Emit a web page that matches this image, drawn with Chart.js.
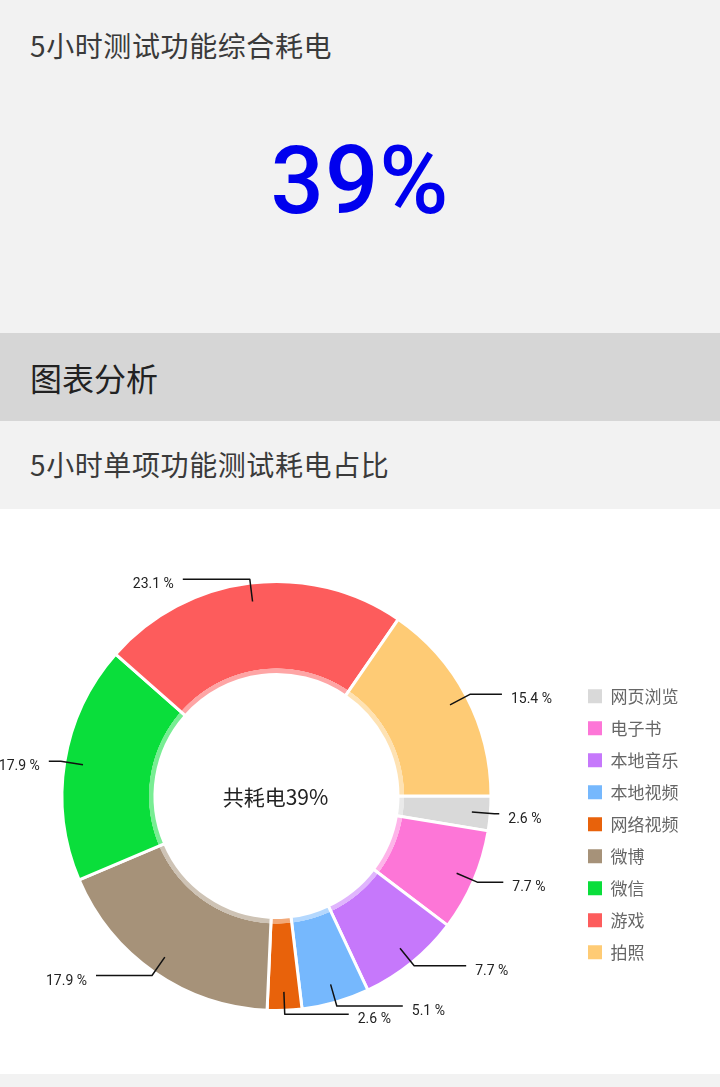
<!DOCTYPE html>
<html>
<head>
<meta charset="utf-8">
<script src="https://cdn.jsdelivr.net/npm/chart.js@4/dist/chart.umd.min.js"></script>
<style>
html,body{margin:0;padding:0;}
body{width:720px;height:1087px;position:relative;background:#f2f2f2;font-family:'Noto Sans CJK SC','Noto Sans',sans-serif;overflow:hidden;}
.sec{position:absolute;left:0;width:720px;overflow:hidden;}
#s1{top:0;height:333px;background:#f2f2f2;}
#s2{top:333px;height:88px;background:#d6d6d6;}
#s3{top:421px;height:88px;background:#f2f2f2;}
#s4{top:509px;height:565px;background:#ffffff;}
#s5{top:1074px;height:13px;background:#f2f2f2;}
.t{position:absolute;left:30px;white-space:nowrap;}
#title1{top:31px;font-size:28px;line-height:28px;color:#3a3a3a;letter-spacing:0.6px;}
#big{position:absolute;left:0;width:720px;text-align:center;top:134px;font-family:Roboto,sans-serif;font-size:94px;line-height:94px;font-weight:500;color:#0000ee;letter-spacing:1px;}
#title2{top:28px;font-size:32px;line-height:32px;color:#222;}
#title3{top:29px;font-size:28px;line-height:28px;color:#3a3a3a;letter-spacing:0.6px;}
#c{position:absolute;left:-20px;top:0;display:block;}
</style>
</head>
<body>
<div class="sec" id="s1">
  <div class="t" id="title1">5小时测试功能综合耗电</div>
  <div id="big">39%</div>
</div>
<div class="sec" id="s2"><div class="t" id="title2">图表分析</div></div>
<div class="sec" id="s3"><div class="t" id="title3">5小时单项功能测试耗电占比</div></div>
<div class="sec" id="s4"><canvas id="c" width="740" height="565"></canvas></div>
<div class="sec" id="s5"></div>
<script>
// ---- data ----
const categories = ['网页浏览','电子书','本地音乐','本地视频','网络视频','微博','微信','游戏','拍照'];
const values = [2.6, 7.7, 7.7, 5.1, 2.6, 17.9, 17.9, 23.1, 15.4];
const centerLabel = '共耗电39%';

// ---- style ----
const colors = ['#d9d9d9','#fd76d7','#c678fb','#76b8fd','#e8620b','#a69279','#0ade3b','#fd5c5c','#fecb75'];
const armLengths = [5, 26, 52, 66, 64, 56, 12, 67, 32];
const R_OUT = 214.5, R_IN = 121.5, BAND = 6;

function lighten(hex, t) {
  const n = parseInt(hex.slice(1), 16);
  const r = (n >> 16) & 255, g = (n >> 8) & 255, b = n & 255;
  const m = v => Math.round(v + (255 - v) * t);
  return 'rgb(' + m(r) + ',' + m(g) + ',' + m(b) + ')';
}

function sliceFill(ctx) {
  const i = ctx.dataIndex;
  const chart = ctx.chart, area = chart.chartArea;
  const base = colors[i] || colors[0];
  if (!area || i === undefined) return base;
  const cx = (area.left + area.right) / 2, cy = (area.top + area.bottom) / 2;
  const g = chart.ctx.createRadialGradient(cx, cy, R_IN, cx, cy, R_OUT);
  const f = BAND / (R_OUT - R_IN);
  const light = lighten(base, 0.45);
  g.addColorStop(0, light);
  g.addColorStop(f, light);
  g.addColorStop(f + 0.004, base);
  g.addColorStop(1, base);
  return g;
}

const leaderPlugin = {
  id: 'leaders',
  afterDatasetsDraw(chart) {
    const meta = chart.getDatasetMeta(0);
    const ctx = chart.ctx;
    ctx.save();
    meta.data.forEach((arc, i) => {
      const p = arc.getProps(['x','y','startAngle','endAngle','outerRadius'], true);
      const mid = (p.startAngle + p.endAngle) / 2;
      const c = Math.cos(mid), s = Math.sin(mid);
      const r1 = p.outerRadius - 18.5, r2 = p.outerRadius + 4;
      const x1 = p.x + c * r1, y1 = p.y + s * r1;
      const x2 = p.x + c * r2, y2 = p.y + s * r2;
      const dir = c >= 0 ? 1 : -1;
      const x3 = x2 + dir * armLengths[i];
      ctx.beginPath();
      ctx.moveTo(x1, y1); ctx.lineTo(x2, y2); ctx.lineTo(x3, y2);
      ctx.strokeStyle = '#111'; ctx.lineWidth = 1.5; ctx.lineJoin = 'round';
      ctx.stroke();
      ctx.font = '14px Roboto, sans-serif';
      ctx.fillStyle = '#222';
      ctx.textBaseline = 'middle';
      ctx.textAlign = dir > 0 ? 'left' : 'right';
      ctx.fillText(values[i].toFixed(1) + ' %', x3 + dir * 9, y2 + 5.5);
    });
    const a0 = meta.data[0];
    ctx.font = "21px 'Noto Sans CJK SC', sans-serif";
    ctx.textAlign = 'center';
    ctx.textBaseline = 'middle';
    ctx.fillStyle = '#222';
    ctx.fillText(centerLabel, a0.x - 1, a0.y + 1);
    ctx.restore();
  }
};

Chart.defaults.font.family = "'Noto Sans CJK SC', Roboto, sans-serif";

new Chart(document.getElementById('c'), {
  type: 'doughnut',
  data: {
    labels: categories,
    datasets: [{
      data: values,
      backgroundColor: sliceFill,
      borderColor: '#ffffff',
      borderWidth: 3
    }]
  },
  options: {
    responsive: false,
    animation: false,
    events: [],
    rotation: 90,
    radius: R_OUT,
    cutout: (R_IN / R_OUT * 100) + '%',
    layout: { padding: { left: 0, right: 31.5, top: 9, bottom: 0 } },
    plugins: {
      tooltip: { enabled: false },
      legend: {
        position: 'right',
        title: { display: true, text: ' ', font: { size: 10 }, padding: { top: 0, bottom: 44.6 } },
        labels: {
          boxWidth: 14,
          boxHeight: 14,
          padding: 15,
          color: '#222',
          font: { size: 17, family: "'Noto Sans CJK SC', sans-serif" },
          generateLabels: (chart) => categories.map((name, i) => ({
            text: name,
            fillStyle: colors[i],
            strokeStyle: colors[i],
            lineWidth: 0,
            hidden: !chart.getDataVisibility(i),
            index: i
          }))
        }
      }
    }
  },
  plugins: [leaderPlugin]
});
</script>
</body>
</html>
